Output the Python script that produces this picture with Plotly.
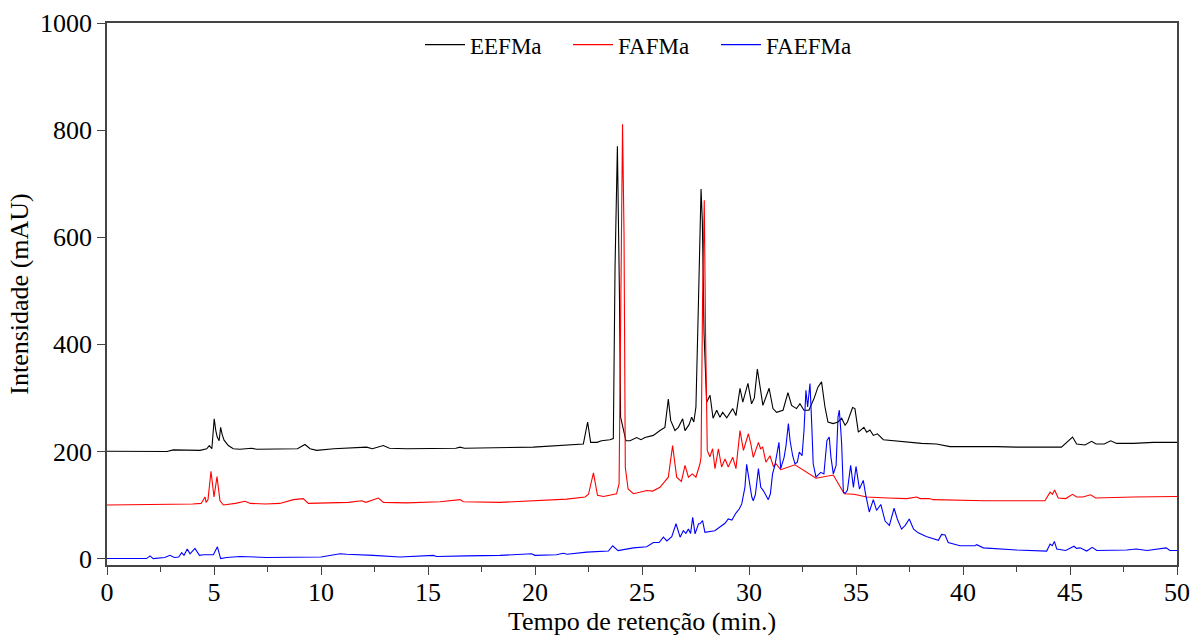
import plotly.graph_objects as go

# ---- data ----
eefma_x = [0, 2.8, 3.1, 4.35, 4.66, 4.78, 4.9, 5.01, 5.08, 5.15, 5.24, 5.31, 5.38, 5.47, 5.67, 5.9, 6.21, 6.76, 7.0, 7.88,
           8.9, 9.25, 9.49, 9.8, 10.6, 12.13, 12.4, 12.91, 13.2, 14.0, 16.3, 16.5, 16.7, 19.92, 21.32, 22.26, 22.46, 22.6,
           22.9, 23.11, 23.5, 23.66, 23.74, 23.85, 23.95, 24.0, 24.25, 24.44, 24.75, 24.95, 25.14, 25.53, 25.84, 26.07,
           26.23, 26.34, 26.54, 26.7, 26.9, 27.01, 27.2, 27.32, 27.42, 27.52, 27.64, 27.76, 27.82, 27.9, 28.02, 28.18,
           28.32, 28.49, 28.64, 28.77, 28.96, 29.24, 29.39, 29.58, 29.71, 29.95, 30.12, 30.25, 30.39, 30.51, 30.65, 30.94,
           31.12, 31.29, 31.59, 31.82, 31.99, 32.22, 32.38, 32.57, 32.8, 33.05, 33.22, 33.39, 33.55, 33.69, 33.93, 34.16,
           34.33, 34.49, 34.6, 34.84, 34.95, 35.11, 35.37, 35.5, 35.65, 35.81, 36.0, 36.28, 36.85, 37.37, 38.06, 38.76,
           39.39, 41.57, 42.5, 44.6, 44.92, 45.12, 45.31, 45.7, 46.01, 46.22, 46.6, 46.9, 47.18, 47.96, 48.9, 50]
eefma_y = [200.5, 200, 203, 202, 205, 211, 205, 261, 240, 227, 220, 245, 232, 221, 211, 205, 204, 206, 204, 204,
           205, 213, 205, 202, 205, 208, 205, 211, 206, 205, 206, 208, 206, 208, 211, 214, 255, 217,
           217, 220, 222, 224, 544, 770, 482, 264, 220, 220, 226, 222, 226, 230, 239, 245,
           298, 258, 239, 245, 261, 239, 250, 264, 255, 283, 482, 690, 630, 420, 292, 305,
           262, 277, 264, 273, 263, 280, 267, 318, 292, 327, 289, 300, 354, 323, 286, 318,
           280, 273, 277, 310, 286, 280, 289, 277, 277, 300, 320, 330, 283, 255, 252, 255,
           262, 249, 255, 282, 280, 236, 245, 236, 240, 230, 233, 222, 220, 217, 215, 214,
           209, 209, 208, 208, 220, 227, 214, 212, 219, 214, 214, 220, 215, 215, 217, 217]

fafma_x = [0, 3.0, 4.0, 4.4, 4.58, 4.63, 4.72, 4.86, 5.0, 5.14, 5.28, 5.44, 6.0, 6.45, 6.7, 7.4, 8.08, 8.71, 9.02, 9.17,
           9.41, 10.5, 11.28, 11.9, 12.1, 12.68, 12.92, 14.0, 15.56, 16.5, 16.65, 18.36, 19.92, 21.48, 22.34, 22.5, 22.73,
           22.92, 23.2, 23.5, 23.81, 23.93, 24.02, 24.09, 24.16, 24.22, 24.35, 24.6, 24.9, 25.22, 25.5, 25.84, 26.23,
           26.43, 26.62, 26.84, 27.01, 27.17, 27.35, 27.52, 27.71, 27.76, 27.83, 27.91, 27.97, 28.05, 28.17, 28.3, 28.41,
           28.57, 28.72, 28.88, 29.03, 29.24, 29.39, 29.58, 29.74, 29.97, 30.08, 30.2, 30.44, 30.54, 30.64, 30.79, 30.98,
           31.14, 31.26, 31.48, 32.15, 33.13, 33.94, 34.45, 34.9, 35.2, 35.5, 36.5, 37.37, 37.83, 38.0, 38.43,
           38.6, 41.03, 43.83, 44.07, 44.18, 44.28, 44.45, 44.8, 45.12, 45.31, 45.6, 45.96, 46.2, 47.95, 50]
fafma_y = [100, 101, 102, 103, 115, 105, 110, 163, 115, 153, 108, 100, 103, 107, 103, 102, 103, 110, 112, 112,
           103, 104, 105, 108, 105, 113, 105, 104, 106, 110, 106, 105, 108, 111, 115, 120, 160,
           118, 116, 118, 121, 140, 607, 811, 607, 170, 130, 121, 124, 127, 126, 133, 152,
           211, 152, 144, 174, 152, 158, 152, 177, 190, 482, 669, 420, 202, 190, 205, 168,
           205, 171, 186, 171, 189, 168, 239, 202, 233, 215, 189, 217, 205, 208, 180, 192,
           172, 177, 166, 175, 150, 156, 121, 120, 118, 115, 113, 112, 115, 112, 112,
           110, 108, 108, 124, 120, 128, 113, 112, 120, 115, 115, 119, 113, 115, 116]

faefma_x = [0, 1.85, 2.01, 2.16, 2.7, 2.94, 3.15, 3.35, 3.49, 3.6, 3.75, 3.88, 4.11, 4.32, 4.51, 4.97, 5.16, 5.31, 5.59,
            6.21, 7.46, 8.7, 10.0, 10.89, 11.2, 12.44, 13.69, 15.25, 15.4, 16.81, 18.36, 19.84, 20.0, 21.0, 21.32, 21.5,
            22.41, 23.43, 23.63, 23.88, 24.6, 25.22, 25.53, 25.8, 26.0, 26.16, 26.39, 26.59, 26.78, 26.93, 27.05, 27.17,
            27.27, 27.37, 27.48, 27.64, 27.71, 27.83, 27.94, 28.4, 28.88, 29.03, 29.2, 29.39, 29.55, 29.66, 29.81, 29.89,
            30.05, 30.13, 30.2, 30.3, 30.44, 30.55, 30.67, 30.9, 31.0, 31.1, 31.21, 31.32, 31.4, 31.48, 31.56, 31.64,
            31.73, 31.84, 31.92, 32.04, 32.15, 32.26, 32.35, 32.48, 32.57, 32.66, 32.74, 32.85, 32.93, 33.0, 33.13, 33.25,
            33.35, 33.5, 33.55, 33.64, 33.75, 33.83, 33.94, 34.07, 34.16, 34.22, 34.28, 34.33, 34.41, 34.5, 34.6, 34.75,
            34.88, 35.0, 35.16, 35.34, 35.45, 35.62, 35.81, 35.96, 36.16, 36.36, 36.56, 36.78, 36.93, 37.13, 37.3, 37.49,
            37.69, 37.91, 38.28, 38.85, 39.0, 39.16, 39.31, 39.86, 40.56, 40.64, 40.95, 41.73, 42.5, 43.91, 44.07, 44.17,
            44.27, 44.38, 44.8, 45.19, 45.3, 45.47, 45.78, 46.04, 46.25, 47.65, 48.1, 48.6, 49.49, 49.67, 50]
faefma_y = [0, 0, 5, 0, 2, 6, 2, 3, 11, 6, 18, 9, 19, 6, 7, 7, 22, 0, 2,
            4, 2, 2, 3, 9, 8, 6, 3, 6, 4, 5, 6, 9, 6, 7, 10, 8,
            12, 14, 24, 15, 20, 22, 30, 30, 40, 33, 41, 65, 40, 52, 47, 55,
            47, 77, 46, 65, 65, 71, 49, 52, 66, 74, 72, 85, 93, 102, 133, 176,
            140, 115, 108, 120, 168, 133, 127, 110, 121, 158, 174, 202, 217, 168, 180, 189,
            211, 252, 220, 192, 177, 180, 199, 192, 239, 314, 283, 327, 252, 177, 152, 158,
            161, 158, 177, 220, 227, 189, 158, 174, 264, 277, 245, 214, 124, 122, 128, 174,
            133, 172, 130, 146, 120, 87, 110, 90, 101, 70, 62, 94, 74, 55, 62, 74,
            55, 48, 41, 34, 45, 44, 30, 24, 24, 26, 20, 18, 16, 14, 27, 24,
            32, 18, 15, 23, 19, 20, 14, 21, 15, 16, 18, 15, 20, 15, 15]

series_names = ["EEFMa", "FAFMa", "FAEFMa"]
series_colors = ["#000000", "#ff0000", "#0000ff"]

x_ticks = [0, 5, 10, 15, 20, 25, 30, 35, 40, 45, 50]
y_ticks = [0, 200, 400, 600, 800, 1000]

FONT = "Liberation Serif, Times New Roman, serif"

fig = go.Figure()
for name, color, xs, ys in zip(series_names, series_colors,
                               [eefma_x, fafma_x, faefma_x],
                               [eefma_y, fafma_y, faefma_y]):
    fig.add_trace(go.Scatter(x=xs, y=ys, mode="lines", name=name,
                             line=dict(color=color, width=1.1)))

fig.update_layout(
    width=1201, height=641,
    margin=dict(l=107, r=24, t=23, b=76),
    plot_bgcolor="white", paper_bgcolor="white",
    font=dict(family=FONT, size=26, color="black"),
    showlegend=True,
    legend=dict(orientation="h", x=0.5, xanchor="center", y=0.96, yanchor="middle",
                font=dict(family=FONT, size=23), bgcolor="rgba(0,0,0,0)",
                itemwidth=40, entrywidth=93, entrywidthmode="pixels", tracegroupgap=0),
)
fig.update_xaxes(
    range=[0, 50], tickvals=x_ticks, ticktext=[str(v) for v in x_ticks],
    ticks="outside", ticklen=8, tickwidth=1, tickcolor="#444", ticklabelstandoff=-5,
    minor=dict(dtick=2.5, ticks="outside", ticklen=5, tickcolor="#444", showgrid=False),
    showline=True, linecolor="#444", linewidth=1.5, mirror=True,
    showgrid=False, zeroline=False, automargin=False,
    title=dict(text="Tempo de retenção (min.)", font=dict(family=FONT, size=26), standoff=6),
    tickfont=dict(family=FONT, size=26),
)
fig.update_yaxes(
    range=[-12, 1000], tickvals=y_ticks, ticktext=[str(v) for v in y_ticks],
    ticks="outside", ticklen=8, tickwidth=1, tickcolor="#444",
    showline=True, linecolor="#444", linewidth=1.5, mirror=True,
    showgrid=False, zeroline=False, automargin=False,
    title=dict(text="Intensidade (mAU)", font=dict(family=FONT, size=26), standoff=4),
    tickfont=dict(family=FONT, size=26),
)

fig.write_html("out.html", config={"displayModeBar": False},
               post_script="document.body.style.margin='0px';document.body.style.overflow='hidden';")
